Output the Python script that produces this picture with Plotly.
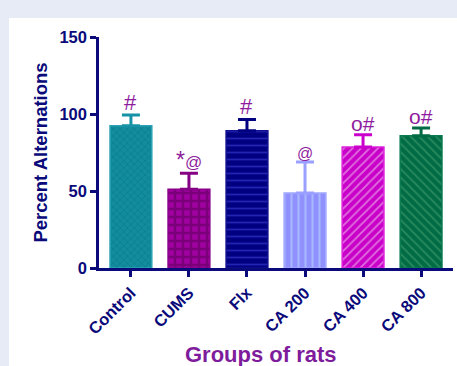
import plotly.graph_objects as go

groups = ["Control", "CUMS", "Flx", "CA 200", "CA 400", "CA 800"]
means = [92.4, 51.1, 89.2, 48.7, 78.6, 85.9]
errors = [7.0, 10.4, 7.3, 20.1, 8.0, 5.0]
sig_labels = ["#", "<span style='font-size:23px'>*</span>@", "#", "@", "o#", "o#"]
sig_sizes = [22, 17, 22, 16, 21, 21]

fill_colors = ["#128c9e", "#a000a0", "#000080", "#9090ff", "#c800c8", "#006b44"]
pattern_colors = ["#0b7f90", "#7a007a", "#2424b4", "#a8b8ff", "#e070e0", "#2a8a60"]
line_colors = ["#2aa2b4", "#8a008a", "#101090", "#a0a8ff", "#dd22dd", "#0a7a50"]
err_colors = ["#1592a6", "#860086", "#000080", "#9aa0ff", "#cc00cc", "#006b44"]
shapes_p = ["x", "+", "-", "|", "/", "\\"]
solid_p = [0.3, 0.5, 0.25, 0.3, 0.3, 0.3]
size_p = [5, 8, 7, 7, 6, 6]

navy = "#0a0a7a"
purple_txt = "#8e1c9e"
FONT = "Liberation Sans, Arial"

fig = go.Figure()
for i, g in enumerate(groups):
    fig.add_trace(go.Bar(
        x=[g], y=[means[i]],
        width=0.72,
        marker=dict(
            color=fill_colors[i],
            line=dict(color=line_colors[i], width=1.5),
            pattern=dict(shape=shapes_p[i], fgcolor=pattern_colors[i],
                         bgcolor=fill_colors[i], size=size_p[i], solidity=solid_p[i],
                         fillmode="replace"),
        ),
        error_y=dict(type="data", symmetric=False, array=[errors[i]],
                     arrayminus=[0], color=err_colors[i], thickness=3, width=9),
        showlegend=False,
    ))

for i, g in enumerate(groups):
    fig.add_annotation(
        x=g, y=means[i] + errors[i], text=sig_labels[i],
        showarrow=False, yanchor="bottom", yshift=-2,
        font=dict(family=FONT, size=sig_sizes[i], color=purple_txt),
    )

fig.add_annotation(
    text="Groups of rats", xref="paper", yref="paper",
    x=(261 - 99) / 354, y=(268 - 354) / 231, showarrow=False,
    xanchor="center", yanchor="middle",
    font=dict(family=FONT, size=22, color="#7e1c9c", weight="bold"),
)

fig.add_shape(type="rect", xref="paper", yref="paper", layer="below",
              x0=(9 - 99) / 354, x1=(470 - 99) / 354,
              y0=(268 - 380) / 231, y1=(268 - 18) / 231,
              fillcolor="white", line=dict(width=0))

fig.update_layout(
    width=457, height=366,
    margin=dict(l=99, r=4, t=37, b=98),
    paper_bgcolor="#e6ebf6",
    plot_bgcolor="rgba(0,0,0,0)",
    xaxis=dict(
        range=[-0.55, 5.55], showgrid=False, zeroline=False,
        showline=True, linecolor=navy, linewidth=2.5,
        ticks="outside", ticklen=6, tickwidth=2.5, tickcolor=navy,
        tickangle=-45,
        tickfont=dict(family=FONT, size=16.5, color=navy, weight="bold"),
    ),
    yaxis=dict(
        range=[0, 150], tickvals=[0, 50, 100, 150], showgrid=False, zeroline=False,
        showline=True, linecolor=navy, linewidth=2.5,
        ticks="outside", ticklen=6, tickwidth=2.5, tickcolor=navy,
        tickfont=dict(family=FONT, size=16.5, color=navy, weight="bold"),
        title=dict(text="Percent Alternations", standoff=7,
                   font=dict(family=FONT, size=18.5, color=navy, weight="bold")),
    ),
)

fig.write_html("out.html")
